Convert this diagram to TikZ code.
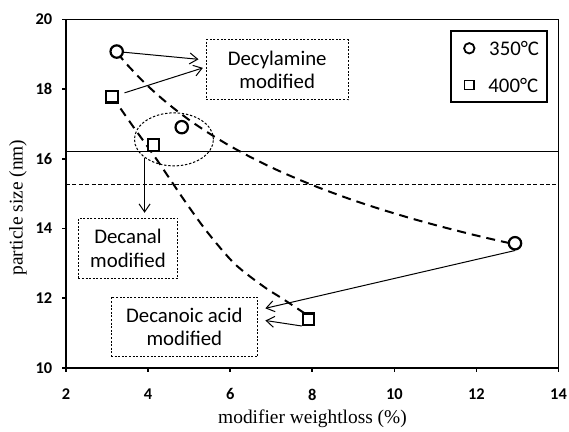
\documentclass[tikz,border=0pt]{standalone}
\usepackage{fontspec}
\setmainfont{Liberation Serif}
\newfontfamily\calib{Carlito}
\usepackage{tikz}
\usetikzlibrary{positioning}
\usetikzlibrary{shapes.geometric}
\usetikzlibrary{arrows.meta}

\tikzset{
  circmark/.style={circle, draw, fill=white, line width=1.1bp, minimum size=6.2bp, inner sep=0pt},
  sqmark/.style={rectangle, draw, fill=white, line width=1.1bp, minimum size=5.7bp, inner sep=0pt},
  legcirc/.style={circle, draw, line width=0.9bp, minimum size=5.2bp, inner sep=0pt},
  legsq/.style={rectangle, draw, line width=0.7bp, minimum size=4.6bp, inner sep=0pt},
  legtext/.style={inner sep=0pt, font=\calib\fontsize{10.4bp}{12bp}\selectfont},
  fitline/.style={line width=1bp, dash pattern=on 4.5bp off 3bp},
  labelbox/.style={draw, line width=0.5bp, dash pattern=on 1bp off 0.8bp, align=center,
    inner sep=0pt, font=\calib\fontsize{10.4bp}{11.8bp}\selectfont},
  grpellipse/.style={ellipse, draw, line width=0.5bp, dash pattern=on 1.2bp off 0.9bp,
    minimum width=39.5bp, minimum height=26.5bp, inner sep=0pt},
  pointer/.style={-{Straight Barb[length=4bp,width=5.5bp]}, line width=0.5bp},
  ticklabel/.style={inner sep=0pt, font=\calib\bfseries\fontsize{8.2bp}{9bp}\selectfont},
  axtitle/.style={inner sep=0pt, font=\fontsize{9.7bp}{11bp}\selectfont},
}

\begin{document}
\begin{tikzpicture}[x=0.5bp, y=-0.5bp]
    \useasboundingbox (0,0) rectangle (569,432);

    % plot frame
    \draw[line width=0.8bp] (66,19.5) rectangle (558.5,368);
    \draw[line width=1.2bp] (66,19.5) -- (66,368) -- (558.5,368);

    \begin{scope}[shift={(66,368)}, x=20.52bp, y=17.425bp, shift={(-2,-10)}]
        \foreach \yv in {10,12,...,20}
            \draw[line width=0.8bp] (2,\yv) -- ++(-2bp,0) node[ticklabel, anchor=east, xshift=-4.5bp] {\yv};
        \foreach \xv in {2,4,...,14}
            \draw[line width=0.8bp] (\xv,10) -- ++(0,-2bp) node[ticklabel, anchor=center, yshift=-11.2bp] {\xv};

        % reference levels
        \draw[line width=0.5bp] (2,16.2) -- (14,16.2);
        \draw[line width=0.5bp, dash pattern=on 2bp off 1.2bp] (2,15.27) -- (14,15.27);

        % trend curves
        \draw[fitline] plot[domain=3.25:12.85, samples=40] (\x, {25.43*\x^(-0.246)});
        \draw[fitline] plot[smooth] coordinates {(3.12,17.8) (3.64,16.92) (4.2,16.0) (4.86,14.85)
            (5.43,13.92) (6.1,13.0) (6.8,12.35) (7.3,11.97) (7.9,11.5)};

        % 350 C
        \node[circmark] (c1) at (3.235,19.08) {};
        \node[circmark] (c2) at (4.82,16.91) {};
        \node[circmark] (c3) at (12.94,13.58) {};
        % 400 C
        \node[sqmark] (s1) at (3.12,17.78) {};
        \node[sqmark] (s2) at (4.13,16.4) {};
        \node[sqmark] (s3) at (7.91,11.4) {};

        \node[grpellipse] (grp) at (4.63,16.56) {};
    \end{scope}

    % callouts
    \node[labelbox, minimum width=71bp, minimum height=30bp] (decyl) at (277.2,70) {Decylamine\\modified};
    \node[labelbox, minimum width=49.7bp, minimum height=30bp] (decanal) at (128,248.3) {Decanal\\modified};
    \node[labelbox, minimum width=73.3bp, minimum height=29.7bp] (acid) at (184.3,327) {Decanoic acid\\modified};

    \draw[pointer, shorten >=3.6bp] (c1) -- ([yshift=5bp]decyl.west);
    \draw[pointer, shorten <=3bp, shorten >=1.5bp] (s1) -- ([yshift=1.5bp]decyl.west);
    \draw[pointer, shorten >=2.5bp] (grp.212) -- (grp.212 |- decanal.north);
    \draw[pointer, shorten >=3.7bp] (c3.south) -- ([yshift=8.5bp]acid.east);
    \draw[pointer, shorten >=3.7bp] (s3.south west) -- ([yshift=3.8bp]acid.east);

    % legend
    \node[draw, line width=1bp, minimum width=48.2bp, minimum height=35.7bp, inner sep=0pt] (legend) at (499.2,66.7) {};
    \node[legcirc] (lc) at (469.3,48.3) {};
    \node[legsq] (ls) at (469.3,85) {};
    \node[legtext, right=6.7bp of lc] (lct) {350°C};
    \node[legtext, right=6.7bp of ls] (lst) {400°C};

    % axis titles
    \node[axtitle] (xt) at (312.5,419) {modifier weightloss (\%)};
    \node[axtitle, rotate=90] (yt) at (18,207.5) {particle size (nm)};
\end{tikzpicture}
\end{document}
